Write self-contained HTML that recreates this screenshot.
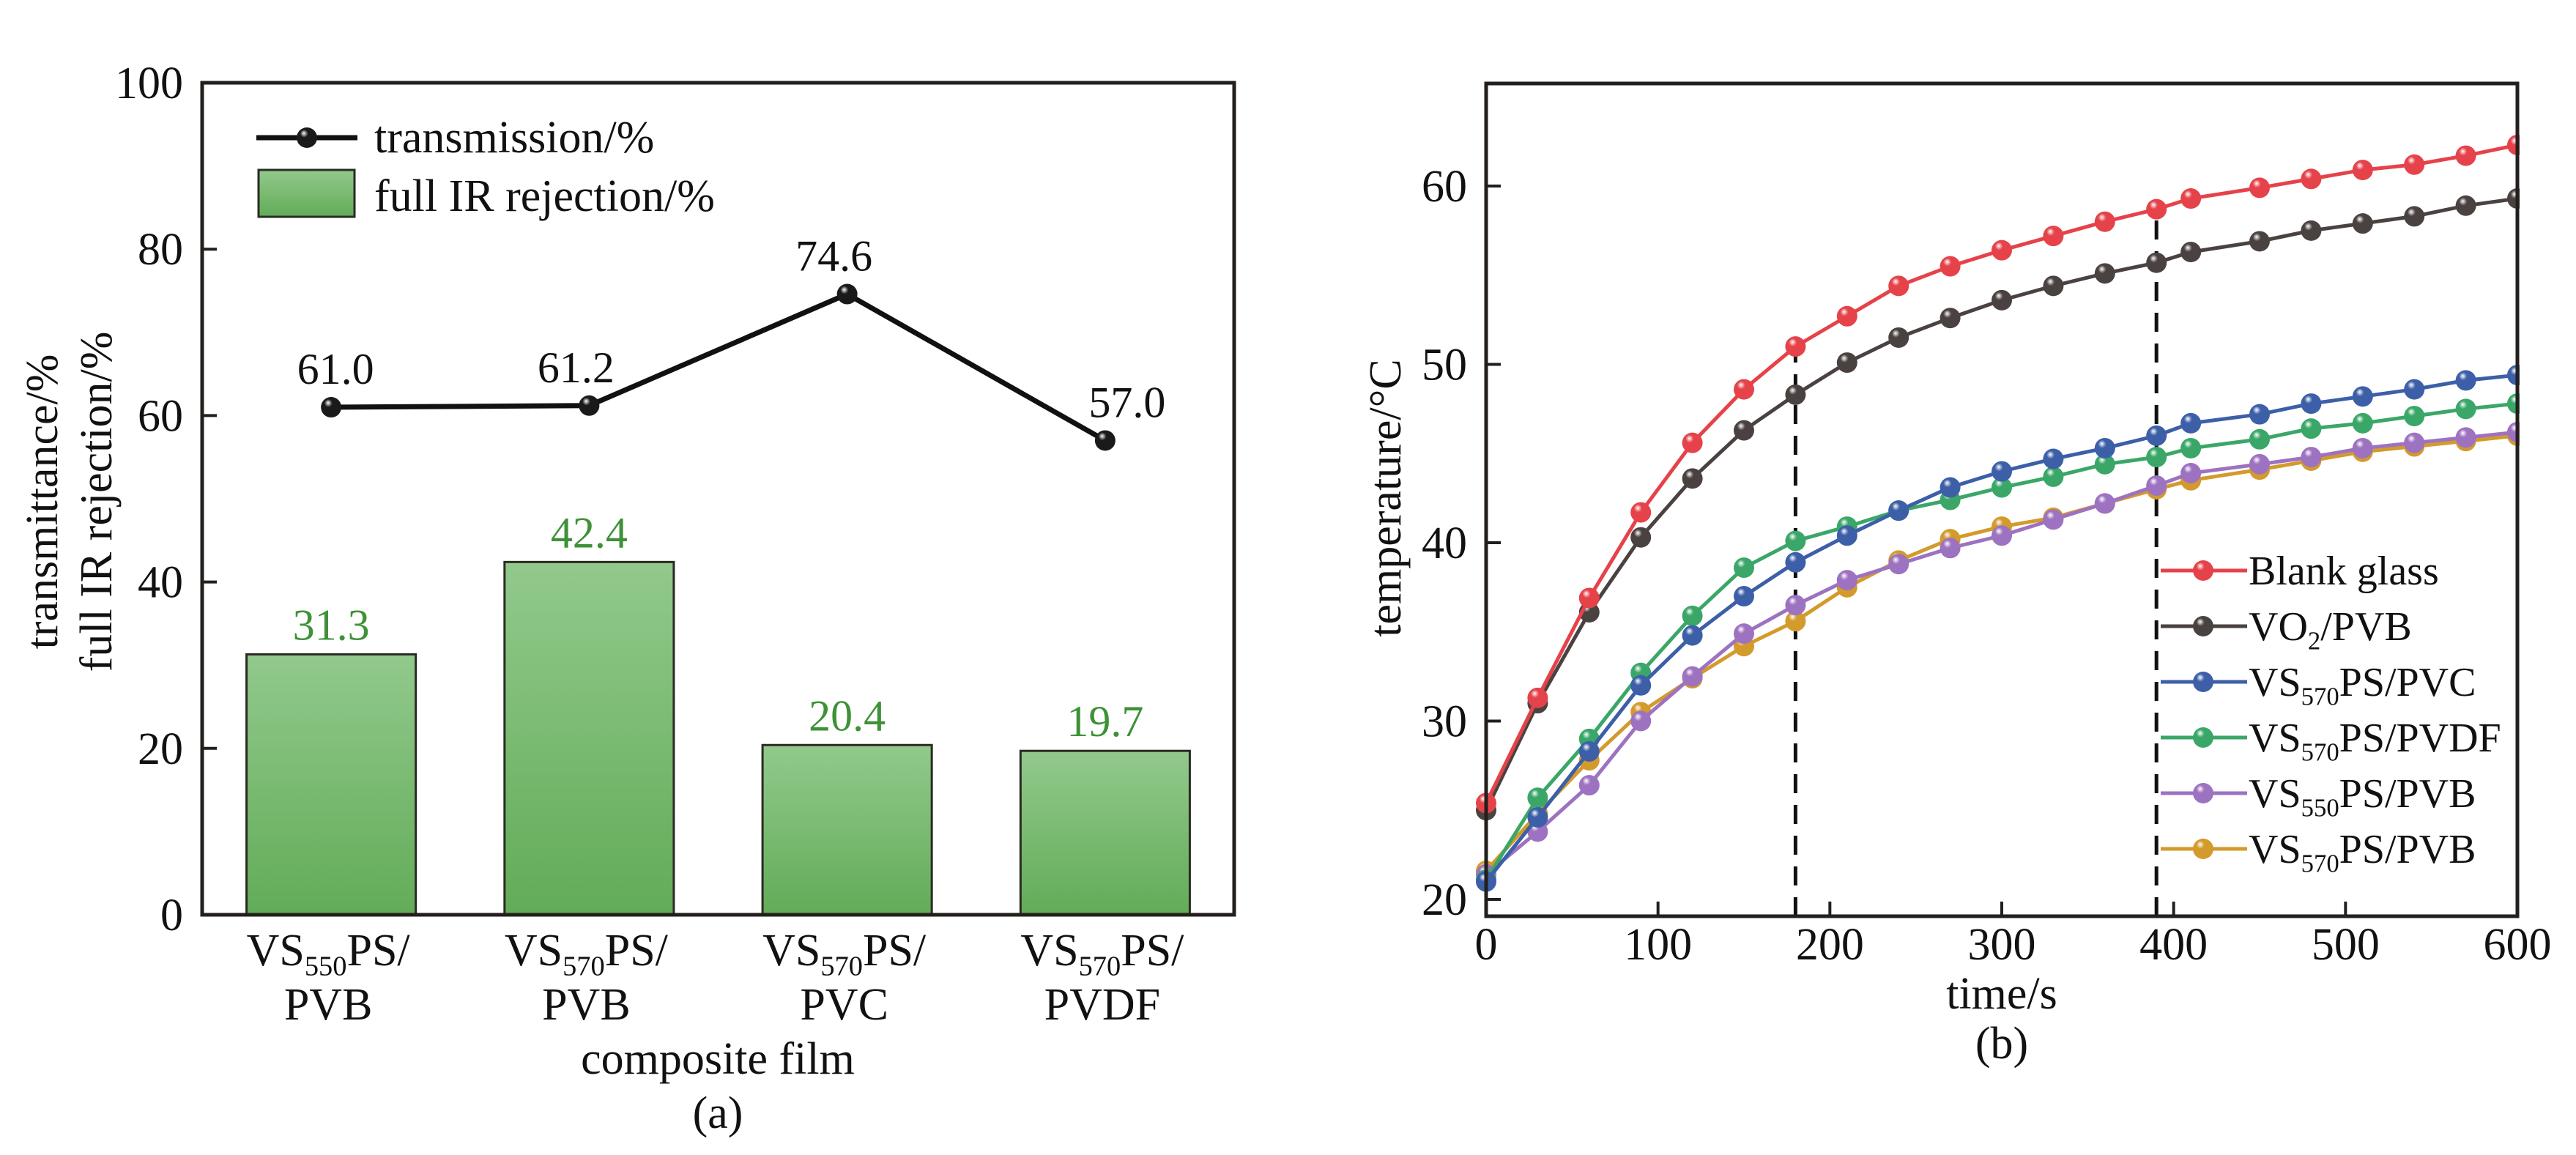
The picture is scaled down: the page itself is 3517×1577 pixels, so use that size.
<!DOCTYPE html>
<html><head><meta charset="utf-8">
<style>
html,body{margin:0;padding:0;background:#fff;}
svg{display:block;font-family:"Liberation Serif","Times New Roman",serif;}
</style></head>
<body>
<svg id="fig" width="3517" height="1577" viewBox="0 0 3517 1577" xmlns="http://www.w3.org/2000/svg">
<defs>
<linearGradient id="barGrad" x1="0" y1="0" x2="0" y2="1">
<stop offset="0" stop-color="#92c98c"/><stop offset="1" stop-color="#62ac58"/>
</linearGradient>
</defs>
<g id="chartA"></g>
<g id="chartB"></g>
</svg>
<script>
// ---------- Chart (a) data ----------
const catsLine1 = ["VS|550|PS/", "VS|570|PS/", "VS|570|PS/", "VS|570|PS/"];
const catsLine2 = ["PVB", "PVB", "PVC", "PVDF"];
const transmission = [61.0, 61.2, 74.6, 57.0];
const irRejection = [31.3, 42.4, 20.4, 19.7];
const aTicks = [0, 20, 40, 60, 80, 100];
// ---------- Chart (b) data ----------
const times = [0,30,60,90,120,150,180,210,240,270,300,330,360,390,410,450,480,510,540,570,600];
const blankGlass = [25.4,31.3,36.9,41.7,45.6,48.6,51.0,52.7,54.4,55.5,56.4,57.2,58.0,58.7,59.3,59.9,60.4,60.9,61.2,61.7,62.3];
const vo2Pvb = [25.0,31.0,36.1,40.3,43.6,46.3,48.3,50.1,51.5,52.6,53.6,54.4,55.1,55.7,56.3,56.9,57.5,57.9,58.3,58.9,59.3];
const vs570Pvc = [21.0,24.6,28.3,32.0,34.8,37.0,38.9,40.4,41.8,43.1,44.0,44.7,45.3,46.0,46.7,47.2,47.8,48.2,48.6,49.1,49.4];
const vs570Pvdf = [21.1,25.7,29.0,32.7,35.9,38.6,40.1,40.9,41.8,42.4,43.1,43.7,44.4,44.8,45.3,45.8,46.4,46.7,47.1,47.5,47.8];
const vs550Pvb = [21.4,23.8,26.4,30.0,32.5,34.9,36.5,37.9,38.8,39.7,40.4,41.3,42.2,43.2,43.9,44.4,44.8,45.3,45.6,45.9,46.2];
const vs570Pvb = [21.6,24.8,27.8,30.5,32.4,34.2,35.6,37.5,39.0,40.2,40.9,41.4,42.2,43.0,43.5,44.1,44.6,45.1,45.4,45.7,46.0];
const bXTicks = [0,100,200,300,400,500,600];
const bYTicks = [20,30,40,50,60];
const dashTimes = [180, 390];

const NS = "http://www.w3.org/2000/svg";
function mk(parent, tag, attrs){ const e=document.createElementNS(NS,tag); for(const k in attrs) e.setAttribute(k,attrs[k]); parent.appendChild(e); return e; }
function ballGrad(id,color){
  const defs=document.querySelector('defs');
  const g=mk(defs,'radialGradient',{id:id,cx:'0.4',cy:'0.35',r:'0.65',fx:'0.35',fy:'0.28'});
  mk(g,'stop',{offset:'0','stop-color':'#ffffff'});
  mk(g,'stop',{offset:'0.3','stop-color':color});
  mk(g,'stop',{offset:'1','stop-color':color});
}
function subText(parent,x,y,parts,size,anchor){
  const t=mk(parent,'text',{x:x,y:y,'font-size':size,'text-anchor':anchor||'middle',fill:'#111'});
  parts.forEach((p,i)=>{ const s=mk(t,'tspan',{}); if(i===1){s.setAttribute('font-size',size*0.62);s.setAttribute('dy',size*0.22);} if(i===2){s.setAttribute('dy',-size*0.22);} s.textContent=p; });
  return t;
}

// ================= Chart (a) =================
(function(){
  const A=document.getElementById('chartA');
  const L=276,R=1685,T=113,B=1249;
  const y=v=>B-(v-0)/(100-0)*(B-T);
  const band=(R-L)/catsLine1.length;
  const xc=i=>L+(i+0.5)*band;
  const bw=band*0.656;
  irRejection.forEach((v,i)=>{
    const r=mk(A,'rect',{x:xc(i)-bw/2,y:y(v),width:bw,height:B-y(v),fill:'url(#barGrad)',stroke:'#2a2a22','stroke-width':3});
    
    
    const t=mk(A,'text',{x:xc(i),y:y(v)-20,'font-size':60,'text-anchor':'middle',fill:'#3f9138'});
    
    
    t.textContent=v.toFixed(1);
  });
  ballGrad('ballK','#1a1a1a');
  const pts=transmission.map((v,i)=>xc(i)+','+y(v)).join(' ');
  const pl=mk(A,'polyline',{points:pts,fill:'none',stroke:'#111','stroke-width':7});
  
  
  transmission.forEach((v,i)=>{
    const c=mk(A,'circle',{cx:xc(i),cy:y(v),r:14,fill:'url(#ballK)'});
    
    
    const dx = i===3 ? 30 : (i===0? 6 : -18);
    const t=mk(A,'text',{x:xc(i)+dx,y:y(v)-32,'font-size':60,'text-anchor':'middle',fill:'#111'});
    
    
    t.textContent=v.toFixed(1);
  });
  const f=mk(A,'rect',{x:L,y:T,width:R-L,height:B-T,fill:'none',stroke:'#231f1c','stroke-width':5});
  
  
  aTicks.forEach(v=>{
    const tk=mk(A,'line',{x1:L,x2:L+20,y1:y(v),y2:y(v),stroke:'#231f1c','stroke-width':4});
    
    
    const t=mk(A,'text',{x:250,y:y(v)+21,'font-size':62,'text-anchor':'end',fill:'#111'});
    
    
    t.textContent=v;
  });
  catsLine1.forEach((c,i)=>{
    const t=subText(A,xc(i)-4,1318,c.split('|'),62,'middle');
    
    
    const t2=mk(A,'text',{x:xc(i)-4,y:1392,'font-size':62,'text-anchor':'middle',fill:'#111'});
    
    
    t2.textContent=catsLine2[i];
  });
  const xt=mk(A,'text',{x:980,y:1466,'font-size':62,'text-anchor':'middle',fill:'#111'});
  
  
  xt.textContent='composite film';
  const cap=mk(A,'text',{x:980,y:1540,'font-size':62,'text-anchor':'middle',fill:'#111'});
  
  
  cap.textContent='(a)';
  const yt1=mk(A,'text',{x:0,y:0,'font-size':62,'text-anchor':'middle',fill:'#111',transform:'translate(78,685) rotate(-90)'});
  
  
  yt1.textContent='transmittance/%';
  const yt2=mk(A,'text',{x:0,y:0,'font-size':62,'text-anchor':'middle',fill:'#111',transform:'translate(152,685) rotate(-90)'});
  
  
  yt2.textContent='full IR rejection/%';
  const lg=mk(A,'g',{});
  
  
  mk(lg,'line',{x1:350,x2:488,y1:188,y2:188,stroke:'#111','stroke-width':7});
  mk(lg,'circle',{cx:419,cy:188,r:14,fill:'url(#ballK)'});
  const l1=mk(lg,'text',{x:511,y:208,'font-size':62,fill:'#111'}); l1.textContent='transmission/%';
  
  
  mk(lg,'rect',{x:353,y:232,width:131,height:64,fill:'url(#barGrad)',stroke:'#2a2a22','stroke-width':3});
  const l2=mk(lg,'text',{x:511,y:288,'font-size':62,fill:'#111'}); l2.textContent='full IR rejection/%';
  
  
})();

// ================= Chart (b) =================
(function(){
  const G=document.getElementById('chartB');
  const L=2029,R=3437,T=114,B=1251;
  const x=v=>L+(v-0)/600*(R-L);
  const y=v=>1228-(v-20)*24.35;
  const series=[
    {name:'Blank glass',data:blankGlass,color:'#e5424a',label:['Blank glass']},
    {name:'VO2/PVB',data:vo2Pvb,color:'#4a4240',label:['VO','2','/PVB']},
    {name:'VS570PS/PVC',data:vs570Pvc,color:'#3c5fa8',label:['VS','570','PS/PVC']},
    {name:'VS570PS/PVDF',data:vs570Pvdf,color:'#3aa768',label:['VS','570','PS/PVDF']},
    {name:'VS550PS/PVB',data:vs550Pvb,color:'#9d72c0',label:['VS','550','PS/PVB']},
    {name:'VS570PS/PVB',data:vs570Pvb,color:'#d39a2c',label:['VS','570','PS/PVB']}
  ];
  dashTimes.forEach(t=>{
    const idx=times.indexOf(t);
    const d=mk(G,'line',{x1:x(t),x2:x(t),y1:B,y2:y(blankGlass[idx]),stroke:'#111','stroke-width':5,'stroke-dasharray':'26,16'});
    
    
  });
  const order=[5,4,3,2,1,0];
  order.forEach(si=>{
    const s=series[si];
    ballGrad('ball'+si,s.color);
    const g=mk(G,'g',{});
    
    
    const pl=mk(g,'polyline',{points:s.data.map((v,i)=>x(times[i])+','+y(v)).join(' '),fill:'none',stroke:s.color,'stroke-width':5});
    
    
    s.data.forEach((v,i)=>{
      const c=mk(g,'circle',{cx:x(times[i]),cy:y(v),r:14,fill:'url(#ball'+si+')'});
      
      
    });
  });
  mk(G,'rect',{x:R+3,y:T-20,width:80,height:B-T+40,fill:'#fff'});
  const f=mk(G,'rect',{x:L,y:T,width:R-L,height:B-T,fill:'none',stroke:'#231f1c','stroke-width':5});
  
  
  bYTicks.forEach(v=>{
    const tk=mk(G,'line',{x1:L,x2:L+20,y1:y(v),y2:y(v),stroke:'#231f1c','stroke-width':4});
    
    
    const t=mk(G,'text',{x:2003,y:y(v)+21,'font-size':62,'text-anchor':'end',fill:'#111'});
    
    
    t.textContent=v;
  });
  bXTicks.forEach(v=>{
    const tk=mk(G,'line',{x1:x(v),x2:x(v),y1:B,y2:B-20,stroke:'#231f1c','stroke-width':4});
    
    
    const t=mk(G,'text',{x:x(v),y:1310,'font-size':62,'text-anchor':'middle',fill:'#111'});
    
    
    t.textContent=v;
  });
  const xt=mk(G,'text',{x:2733,y:1377,'font-size':62,'text-anchor':'middle',fill:'#111'});
  
  
  xt.textContent='time/s';
  const cap=mk(G,'text',{x:2733,y:1445,'font-size':62,'text-anchor':'middle',fill:'#111'});
  
  
  cap.textContent='(b)';
  const yt=mk(G,'text',{x:0,y:0,'font-size':62,'text-anchor':'middle',fill:'#111',transform:'translate(1912,680) rotate(-90)'});
  
  
  yt.textContent='temperature/°C';
  const lg=mk(G,'g',{});
  
  
  series.forEach((s,i)=>{
    const cy=779+76*i;
    mk(lg,'line',{x1:2950,x2:3068,y1:cy,y2:cy,stroke:s.color,'stroke-width':5});
    mk(lg,'circle',{cx:3008,cy:cy,r:14,fill:'url(#ball'+i+')'});
    const t=subText(lg,3070,cy+19,s.label,56,'start');
    
    
  });
})();
</script>
</body></html>
